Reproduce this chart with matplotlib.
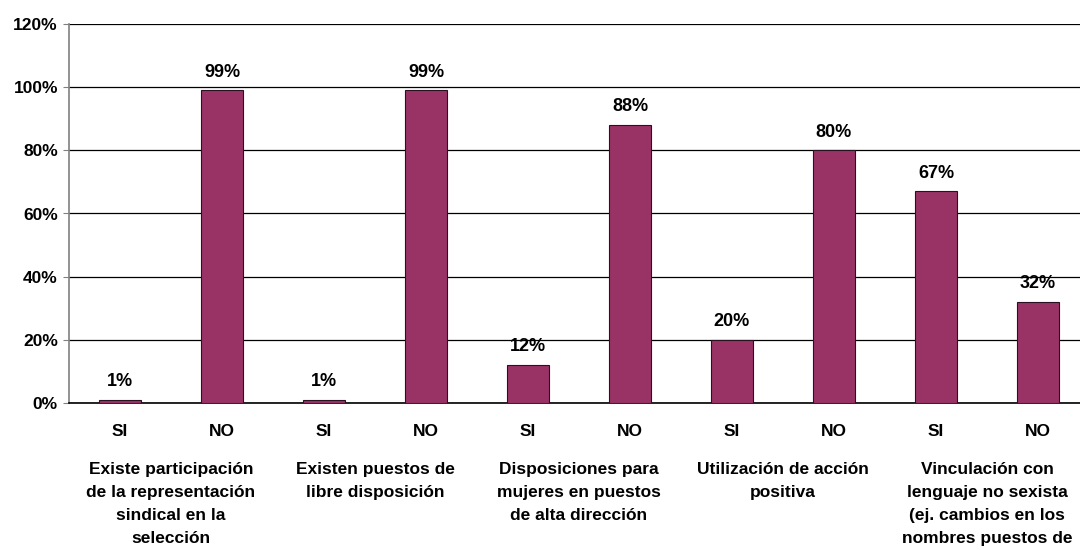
import numpy as np
import matplotlib.pyplot as plt
import matplotlib.transforms as mtransforms

plt.rcParams['font.family'] = ['Liberation Sans', 'DejaVu Sans']

answers = ['SI', 'NO', 'SI', 'NO', 'SI', 'NO', 'SI', 'NO', 'SI', 'NO']
values = [1, 99, 1, 99, 12, 88, 20, 80, 67, 32]
groups = [
    'Existe participación\nde la representación\nsindical en la\nselección',
    'Existen puestos de\nlibre disposición',
    'Disposiciones para\nmujeres en puestos\nde alta dirección',
    'Utilización de acción\npositiva',
    'Vinculación con\nlenguaje no sexista\n(ej. cambios en los\nnombres puestos de',
]

fig = plt.figure(figsize=(10.8, 5.5), dpi=100)
ax = fig.add_axes([69/1080, 1 - 403/550, 1020/1080, 379/550])

x = np.arange(len(values))
ax.bar(x, np.array(values) / 100, width=0.42, color='#993366',
       edgecolor='#2a1020', linewidth=0.8, zorder=3)
for xi, v in zip(x, values):
    ax.annotate(f'{v}%', (xi, v / 100), xytext=(0, 7), textcoords='offset points',
                ha='center', va='bottom', fontsize=13, fontweight='bold')

ax.set_xlim(-0.5, len(values) - 0.5)
ax.set_ylim(0, 1.2)
ax.set_yticks(np.arange(0, 1.21, 0.2))
ax.set_yticklabels([f'{int(round(t*100))}%' for t in np.arange(0, 1.21, 0.2)],
                   fontsize=12.5, fontweight='bold')
ax.set_xticks(x)
ax.set_xticklabels(answers, fontsize=12.5, fontweight='bold')
ax.tick_params(axis='x', length=0, pad=15)
ax.tick_params(axis='y', length=4, color='#808080', pad=4)
ax.yaxis.grid(True, color='black', linewidth=0.9, zorder=0)
for s in ['top', 'right']:
    ax.spines[s].set_visible(False)
ax.spines['left'].set_color('#808080')
ax.spines['left'].set_linewidth(1.2)
ax.spines['bottom'].set_color('black')
ax.spines['bottom'].set_linewidth(1.2)

trans = mtransforms.blended_transform_factory(ax.transData, fig.transFigure)
for i, g in enumerate(groups):
    ax.text(2 * i + 0.5, 1 - 462/550, g, transform=trans, ha='center', va='top',
            fontsize=12.5, fontweight='bold', linespacing=1.66, clip_on=False)

fig.savefig('out.png', dpi=100)
